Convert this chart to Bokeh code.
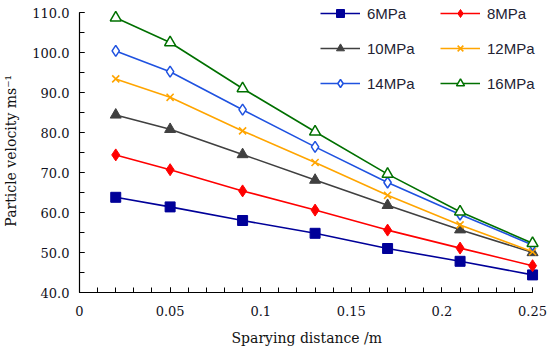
from bokeh.plotting import figure
from bokeh.models import Range1d, FixedTicker, NumeralTickFormatter, Legend, LegendItem, Title
from bokeh.embed import file_html
from bokeh.resources import INLINE

distance = [0.02, 0.05, 0.09, 0.13, 0.17, 0.21, 0.25]
v6 = [63.8, 61.4, 58.0, 54.8, 51.0, 47.8, 44.4]
v8 = [74.4, 70.7, 65.4, 60.6, 55.6, 51.1, 46.7]
v10 = [84.4, 80.8, 74.5, 68.1, 61.8, 55.7, 50.0]
v12 = [93.4, 88.8, 80.4, 72.5, 64.3, 56.9, 50.2]
v14 = [100.4, 95.2, 85.7, 76.4, 67.5, 59.5, 51.9]
v16 = [108.7, 102.5, 91.0, 80.2, 69.6, 60.2, 52.3]
series_names = ["6MPa", "8MPa", "10MPa", "12MPa", "14MPa", "16MPa"]
x_ticks = [0, 0.05, 0.1, 0.15, 0.2, 0.25]
y_ticks = [40, 50, 60, 70, 80, 90, 100, 110]

p = figure(width=550, height=355, output_backend="svg", toolbar_location=None,
           x_range=Range1d(0, 0.2599), y_range=Range1d(40, 112.0),
           min_border_left=79, min_border_right=0, min_border_top=4, min_border_bottom=62)
p.xgrid.visible = False
p.ygrid.visible = False
p.outline_line_color = None
p.background_fill_color = "white"

serif = "DejaVu Serif"
for ax in (p.xaxis[0], p.yaxis[0]):
    ax.axis_line_color = "black"
    ax.axis_line_width = 1.2
    ax.major_tick_line_color = "black"
    ax.minor_tick_line_color = "black"
    ax.major_tick_out = 0
    ax.major_tick_in = 5
    ax.minor_tick_out = 0
    ax.minor_tick_in = 5
    ax.major_label_text_font = serif
    ax.major_label_text_font_size = "13px"
    ax.major_label_text_color = "#111122"
    ax.axis_label_text_font = serif
    ax.axis_label_text_font_size = "14px"
    ax.axis_label_text_font_style = "normal"
    ax.axis_label_text_color = "#111111"

p.xaxis[0].bounds = (0, 0.25)
p.xaxis[0].ticker = FixedTicker(ticks=x_ticks, minor_ticks=[i / 100 for i in range(26)])
p.xaxis[0].formatter = NumeralTickFormatter(format="0.[00]")
p.xaxis[0].major_label_standoff = 13

# x axis title placed as a below-title so it centres under the 0..0.25 span
xtitle = Title(text="Sparying distance /m", align="left", offset=152, standoff=19,
               text_font=serif, text_font_size="14px", text_font_style="normal",
               text_color="#111111")
p.add_layout(xtitle, "below")

p.yaxis[0].bounds = (40, 110)
p.yaxis[0].ticker = FixedTicker(ticks=y_ticks, minor_ticks=list(range(40, 111, 5)))
p.yaxis[0].formatter = NumeralTickFormatter(format="0.0")
p.yaxis[0].major_label_standoff = 10
p.yaxis[0].axis_label = "Particle velocity  ms\u207b\u00b9"
p.yaxis[0].axis_label_standoff = 10

renderers = {}
lw = 1.6
l = p.line(distance, v6, line_color="#000099", line_width=lw)
m = p.scatter(distance, v6, marker="square", size=10, fill_color="#000099", line_color="#000099")
renderers["6MPa"] = [l, m]
l = p.line(distance, v8, line_color="#FF0000", line_width=lw)
m = p.scatter(distance, v8, marker="diamond", size=12, fill_color="#FF0000", line_color="#FF0000")
renderers["8MPa"] = [l, m]
l = p.line(distance, v10, line_color="#404040", line_width=lw)
m = p.scatter(distance, v10, marker="triangle", size=11, fill_color="#404040", line_color="#404040")
renderers["10MPa"] = [l, m]
l = p.line(distance, v12, line_color="#FFA500", line_width=lw)
m = p.scatter(distance, v12, marker="x", size=10, line_color="#FFA500", line_width=1.6)
renderers["12MPa"] = [l, m]
l = p.line(distance, v14, line_color="#1F52E0", line_width=lw)
m = p.scatter(distance, v14, marker="diamond", size=11, fill_color="white", line_color="#1F52E0", line_width=1.5)
renderers["14MPa"] = [l, m]
l = p.line(distance, v16, line_color="#007000", line_width=lw)
m = p.scatter(distance, v16, marker="triangle", size=11, fill_color="white", line_color="#007000", line_width=1.5)
renderers["16MPa"] = [l, m]

# legend filled column by column: first column 6, 10, 14; second 8, 12, 16
order = ["6MPa", "10MPa", "14MPa", "8MPa", "12MPa", "16MPa"]
items = [LegendItem(label=n, renderers=renderers[n]) for n in order]

legend = Legend(items=items, location=(241, 199), ncols=2,
                glyph_width=40, glyph_height=20, label_height=20, label_width=58,
                label_standoff=7, spacing=15, padding=0, margin=0,
                border_line_color=None, background_fill_alpha=0,
                label_text_font="Liberation Sans", label_text_font_size="15px",
                label_text_color="#222233")
p.add_layout(legend, "center")

open("out.html", "w").write(file_html(p, INLINE))
